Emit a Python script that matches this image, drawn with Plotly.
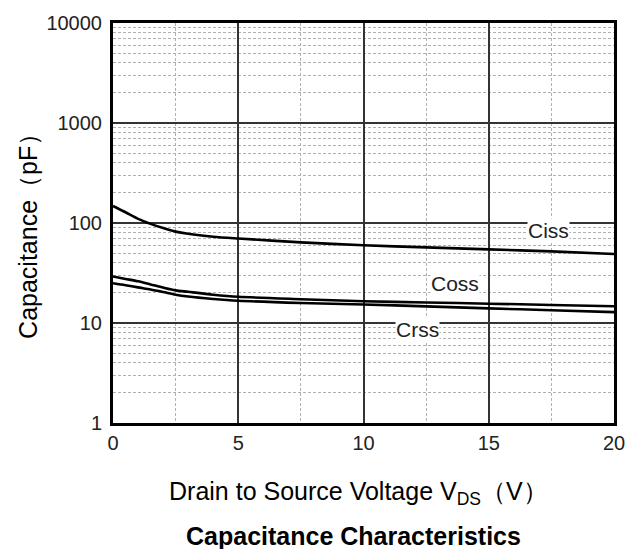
import plotly.graph_objects as go

vds = [0, 0.5, 1, 1.5, 2, 2.5, 3, 4, 5, 7.5, 10, 12.5, 15, 17.5, 20]
ciss = [148, 128, 110, 98, 89, 82, 78, 73, 70, 64, 60, 57, 54.5, 52, 49]
coss = [29.2, 27.6, 26.1, 24.3, 22.6, 21.2, 20.5, 19.2, 18.3, 17.3, 16.5, 16.05, 15.6, 15.16, 14.73]
crss = [25.0, 23.9, 22.7, 21.6, 20.4, 19.2, 18.4, 17.4, 16.7, 15.85, 15.3, 14.67, 14.0, 13.42, 12.85]

x_ticks = [0, 5, 10, 15, 20]
y_ticks = [1, 10, 100, 1000, 10000]
y_minor = [m * 10 ** k for k in range(4) for m in range(2, 10)]

labels = [("Ciss", 17.37, 1.921), ("Coss", 13.65, 1.396), ("Crss", 12.14, 0.931)]

FONT = "Liberation Sans, Arial, sans-serif"

fig = go.Figure()
for name, ys in (("Ciss", ciss), ("Coss", coss), ("Crss", crss)):
    fig.add_trace(go.Scatter(x=vds, y=ys, mode="lines", name=name,
                             line=dict(color="black", width=2.6, shape="spline", smoothing=0.8),
                             showlegend=False))

for text, lx, ly in labels:
    fig.add_annotation(x=lx, y=ly, xref="x", yref="y", text=text, showarrow=False,
                       font=dict(family=FONT, size=21, color="#222"),
                       bgcolor="white", borderpad=0, xanchor="center", yanchor="middle")

fig.add_annotation(x=0.5 - 0.009, y=-0.1757, xref="paper", yref="paper",
                   text="Drain to Source Voltage V<sub>DS</sub>（V）", showarrow=False,
                   font=dict(family=FONT, size=25, color="black"),
                   xanchor="center", yanchor="middle")
fig.add_annotation(x=0.5 - 0.019, y=-0.282, xref="paper", yref="paper",
                   text="<b>Capacitance Characteristics</b>", showarrow=False,
                   font=dict(family=FONT, size=25, color="black"),
                   xanchor="center", yanchor="middle")
fig.add_annotation(x=-0.1697, y=0.4827, xref="paper", yref="paper",
                   text="Capacitance（pF）", showarrow=False, textangle=-90,
                   font=dict(family=FONT, size=25, color="black"),
                   xanchor="center", yanchor="middle")

fig.update_layout(
    width=642, height=549,
    margin=dict(l=113, r=28, t=19, b=126),
    paper_bgcolor="white", plot_bgcolor="white",
    showlegend=False,
)
fig.update_xaxes(
    range=[0, 20], tickmode="array", tickvals=x_ticks,
    tickfont=dict(family=FONT, size=20, color="#222"),
    showgrid=True, gridcolor="#333", gridwidth=1.5,
    showline=True, linecolor="black", linewidth=3, mirror=True,
    ticks="", ticklen=0, ticklabelstandoff=0, zeroline=False,
    minor=dict(tickmode="array", tickvals=[2.5, 7.5, 12.5, 17.5], showgrid=True,
               gridcolor="#b0b0b0", griddash="3px,2px", gridwidth=1, ticks=""),
)
fig.update_yaxes(
    type="log", range=[0, 4], tickmode="array", tickvals=y_ticks,
    ticktext=[str(v) for v in y_ticks],
    tickfont=dict(family=FONT, size=20, color="#222"),
    showgrid=True, gridcolor="#333", gridwidth=1.5,
    showline=True, linecolor="black", linewidth=3, mirror=True,
    ticks="", ticklen=0, ticklabelstandoff=4, zeroline=False,
    minor=dict(tickmode="array", tickvals=y_minor, showgrid=True,
               gridcolor="#b0b0b0", griddash="3px,2px", gridwidth=1, ticks=""),
)

fig.write_html("out.html")
